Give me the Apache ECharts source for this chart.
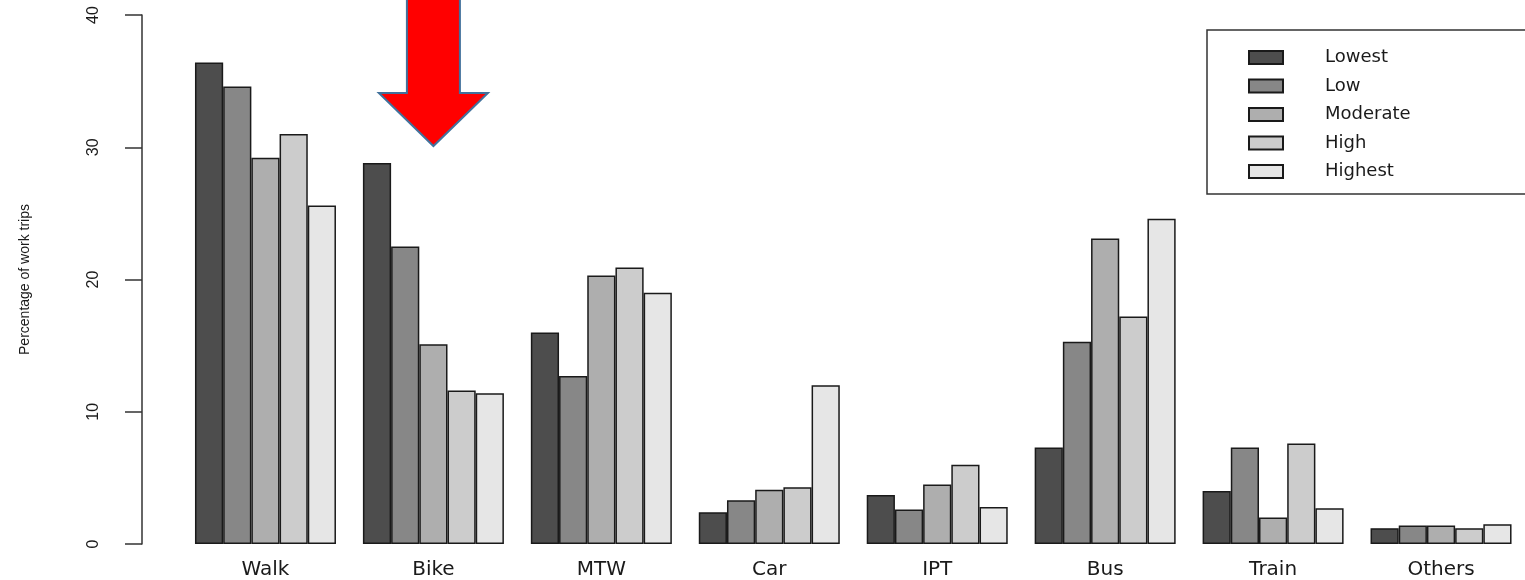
<!DOCTYPE html>
<html>
<head>
<meta charset="utf-8">
<script src="https://cdn.jsdelivr.net/npm/echarts@6/dist/echarts.min.js"></script>
<style>
html,body{margin:0;padding:0;background:#fff;}
#chart{width:1525px;height:580px;}
</style>
</head>
<body>
<div id="chart"></div>
<script>
const categories = ['Walk', 'Bike', 'MTW', 'Car', 'IPT', 'Bus', 'Train', 'Others'];
const seriesNames = ['Lowest', 'Low', 'Moderate', 'High', 'Highest'];
const lowest   = [36.4, 28.8, 16.0, 2.4, 3.7, 7.3, 4.0, 1.2];
const low      = [34.6, 22.5, 12.7, 3.3, 2.6, 15.3, 7.3, 1.4];
const moderate = [29.2, 15.1, 20.3, 4.1, 4.5, 23.1, 2.0, 1.4];
const high     = [31.0, 11.6, 20.9, 4.3, 6.0, 17.2, 7.6, 1.2];
const highest  = [25.6, 11.4, 19.0, 12.0, 2.8, 24.6, 2.7, 1.5];
const yTicks = [0, 10, 20, 30, 40];
const colors = ['#4D4D4D', '#878787', '#AEAEAE', '#CCCCCC', '#E6E6E6'];
const allValues = [lowest, low, moderate, high, highest];

const chart = echarts.init(document.getElementById('chart'), null, {renderer: 'canvas'});

const series = seriesNames.map((n, i) => ({
  name: n,
  type: 'bar',
  data: allValues[i],
  barWidth: 28.2,
  barGap: '0%',
  itemStyle: {color: colors[i], borderColor: '#1a1a1a', borderWidth: 1.5},
  emphasis: {disabled: true}
}));

chart.setOption({
  animation: false,
  backgroundColor: '#ffffff',
  grid: {left: 181.5, right: 0, top: 15, bottom: 36},
  legend: {
    orient: 'vertical',
    left: 1248,
    top: 48.5,
    padding: 0,
    icon: 'rect',
    itemWidth: 34,
    itemHeight: 13,
    itemGap: 10.5,
    data: seriesNames,
    textStyle: {fontFamily: 'DejaVu Sans', fontSize: 18, color: '#1a1a1a', lineHeight: 16, padding: [0, 0, 0, 37]}
  },
  xAxis: {
    type: 'category',
    data: categories,
    axisLine: {show: false},
    axisTick: {show: false},
    axisLabel: {margin: 16, fontFamily: 'DejaVu Sans', fontSize: 20, color: '#1a1a1a'}
  },
  yAxis: {
    type: 'value',
    min: yTicks[0],
    max: yTicks[yTicks.length - 1],
    interval: 10,
    offset: 39.5,
    name: 'Percentage of work trips',
    nameLocation: 'middle',
    nameRotate: 90,
    nameGap: 110,
    nameTextStyle: {fontFamily: 'Liberation Sans', fontSize: 14, color: '#1a1a1a'},
    axisLine: {show: true, lineStyle: {color: '#333', width: 1.5}},
    axisTick: {show: true, length: 17, lineStyle: {color: '#333', width: 1.5}},
    axisLabel: {rotate: 90, margin: 40, fontFamily: 'Liberation Sans', fontSize: 16, color: '#1a1a1a'},
    splitLine: {show: false}
  },
  series: series
});

// annotations: legend frame and red arrow pointing at the Bike group
const cx = chart.convertToPixel({xAxisIndex: 0}, 'Bike');
chart.setOption({
  graphic: [
    {
      type: 'rect',
      shape: {x: 1207, y: 30, width: 340, height: 164},
      style: {fill: 'none', stroke: '#333', lineWidth: 1.5},
      silent: true
    },
    {
      type: 'polygon',
      shape: {points: [
        [cx - 26.5, -5], [cx + 26.5, -5], [cx + 26.5, 93], [cx + 54.5, 93],
        [cx, 146], [cx - 54.5, 93], [cx - 26.5, 93]
      ]},
      style: {fill: '#ff0000', stroke: '#41719c', lineWidth: 2},
      silent: true
    }
  ]
});
</script>
</body>
</html>
